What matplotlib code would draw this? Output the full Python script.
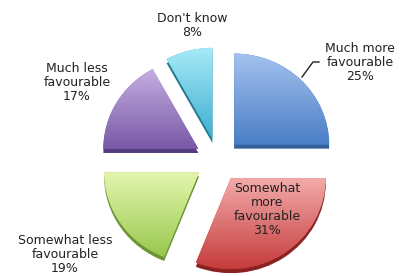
"""Exploded pie chart of opinion shares, drawn in an Excel-like 3D style."""

import numpy as np
import matplotlib.pyplot as plt
from matplotlib.colors import LinearSegmentedColormap

# data, clockwise from 12 o'clock
categories = ["Much more\nfavourable", "Somewhat\nmore\nfavourable",
              "Somewhat less\nfavourable", "Much less\nfavourable", "Don't know"]
shares = [25, 31, 19, 17, 8]

# styling
top_colors = ["#a4c2ee", "#f2aaaa", "#e4f6ae", "#c4aee2", "#a6eaf8"]
bottom_colors = ["#4a7ec6", "#c63c3c", "#98c84e", "#7858a6", "#3eaed0"]
side_colors = ["#34609c", "#8a2222", "#6e9434", "#553b80", "#28788e"]

PX = 95.0          # pixels per data unit horizontally (pie radius)
PY = 91.0          # pixels per data unit vertically (slight tilt)
CX, CY = 218, 160  # pie centre in pixels


def to_data(px, py):
    return (px - CX) / PX, (CY - py) / PY


def main() -> None:
    fig = plt.figure(figsize=(4.02, 2.76), dpi=100)
    ax = fig.add_axes([0, 0, 1, 1])
    explode = [0.24] * len(shares)

    # slab under the wedges to fake thickness
    ax.pie(shares, explode=explode, startangle=90, counterclock=False,
           colors=side_colors, center=(0, -0.045),
           wedgeprops=dict(linewidth=0))

    wedges, _ = ax.pie(shares, explode=explode, startangle=90, counterclock=False,
                       colors=bottom_colors, wedgeprops=dict(linewidth=0))

    grad = np.linspace(0, 1, 200).reshape(-1, 1)
    for w, lo, hi in zip(wedges, top_colors, bottom_colors):
        cmap = LinearSegmentedColormap.from_list("g", [lo, hi])
        ext = w.get_path().get_extents()
        im = ax.imshow(grad, cmap=cmap, extent=(ext.x0, ext.x1, ext.y0, ext.y1),
                       origin="upper", aspect="auto", interpolation="bilinear", zorder=3)
        im.set_clip_path(w)

    # label centres in pixels of the 402x276 picture
    label_px = [(360, 62), (267, 210), (65, 255), (77, 82), (192, 26)]
    for cat, share, (px, py) in zip(categories, shares, label_px):
        x, y = to_data(px, py)
        ax.text(x, y, f"{cat}\n{share}%", ha="center", va="center",
                fontsize=9, color="#222222", linespacing=1.1, zorder=5)

    # leader line for the top-right label
    pts = [to_data(302, 77), to_data(313, 62), to_data(319, 62)]
    ax.plot([p[0] for p in pts], [p[1] for p in pts], color="#222222",
            lw=1.0, zorder=5)

    ax.set_aspect("auto")
    ax.set_xlim(-CX / PX, (402 - CX) / PX)
    ax.set_ylim(-(276 - CY) / PY, CY / PY)
    ax.axis("off")

    fig.savefig("out.png", dpi=100)
    plt.close(fig)


if __name__ == "__main__":
    main()
